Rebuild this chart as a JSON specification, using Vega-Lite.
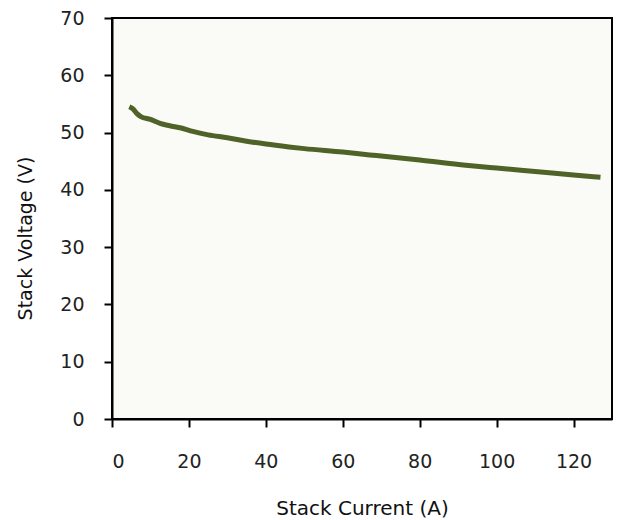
{
  "$schema": "https://vega.github.io/schema/vega-lite/v6.json",
  "autosize": "none",
  "width": 500,
  "height": 401,
  "padding": {"left": 112, "top": 18, "right": 7, "bottom": 101},
  "background": "#ffffff",
  "config": {
    "view": {"fill": "#fafaf6", "stroke": "#000000", "strokeWidth": 2},
    "font": "DejaVu Sans"
  },
  "data": {
    "values": [
      {"current": 4.5, "voltage": 54.5},
      {"current": 5.5, "voltage": 54.1},
      {"current": 6.5, "voltage": 53.3},
      {"current": 7.5, "voltage": 52.8},
      {"current": 10, "voltage": 52.3},
      {"current": 12.5, "voltage": 51.6},
      {"current": 15, "voltage": 51.2},
      {"current": 18, "voltage": 50.8},
      {"current": 21, "voltage": 50.2},
      {"current": 25, "voltage": 49.6},
      {"current": 30, "voltage": 49.1},
      {"current": 35, "voltage": 48.5},
      {"current": 40, "voltage": 48.0},
      {"current": 46, "voltage": 47.5},
      {"current": 50, "voltage": 47.2},
      {"current": 60, "voltage": 46.6},
      {"current": 67, "voltage": 46.1},
      {"current": 70, "voltage": 45.9},
      {"current": 80, "voltage": 45.2},
      {"current": 92, "voltage": 44.3},
      {"current": 100, "voltage": 43.8},
      {"current": 110, "voltage": 43.2},
      {"current": 120, "voltage": 42.6},
      {"current": 127, "voltage": 42.2}
    ]
  },
  "mark": {"type": "line", "color": "#4f6228", "strokeWidth": 5, "interpolate": "monotone"},
  "encoding": {
    "x": {
      "field": "current",
      "type": "quantitative",
      "scale": {"domain": [0, 130], "nice": false},
      "axis": {
        "title": "Stack Current (A)",
        "values": [0, 20, 40, 60, 80, 100, 120],
        "grid": false,
        "domainColor": "#000000",
        "domainWidth": 2,
        "tickColor": "#000000",
        "tickWidth": 2,
        "tickSize": 8,
        "labelFont": "DejaVu Sans",
        "labelFontSize": 19,
        "labelColor": "#222222",
        "labelPadding": 25,
        "titleFont": "DejaVu Sans",
        "titleFontSize": 20,
        "titleFontWeight": "normal",
        "titleColor": "#111111",
        "titleY": 89,
        "titleBaseline": "middle"
      }
    },
    "y": {
      "field": "voltage",
      "type": "quantitative",
      "scale": {"domain": [0, 70], "nice": false},
      "axis": {
        "title": "Stack Voltage (V)",
        "values": [0, 10, 20, 30, 40, 50, 60, 70],
        "grid": false,
        "domainColor": "#000000",
        "domainWidth": 2,
        "tickColor": "#000000",
        "tickWidth": 2,
        "tickSize": 8,
        "labelFont": "DejaVu Sans",
        "labelFontSize": 19,
        "labelColor": "#222222",
        "labelPadding": 20,
        "titleFont": "DejaVu Sans",
        "titleFontSize": 19,
        "titleFontWeight": "normal",
        "titleColor": "#111111",
        "titleX": -87,
        "titleY": 220,
        "titleBaseline": "middle"
      }
    }
  }
}
